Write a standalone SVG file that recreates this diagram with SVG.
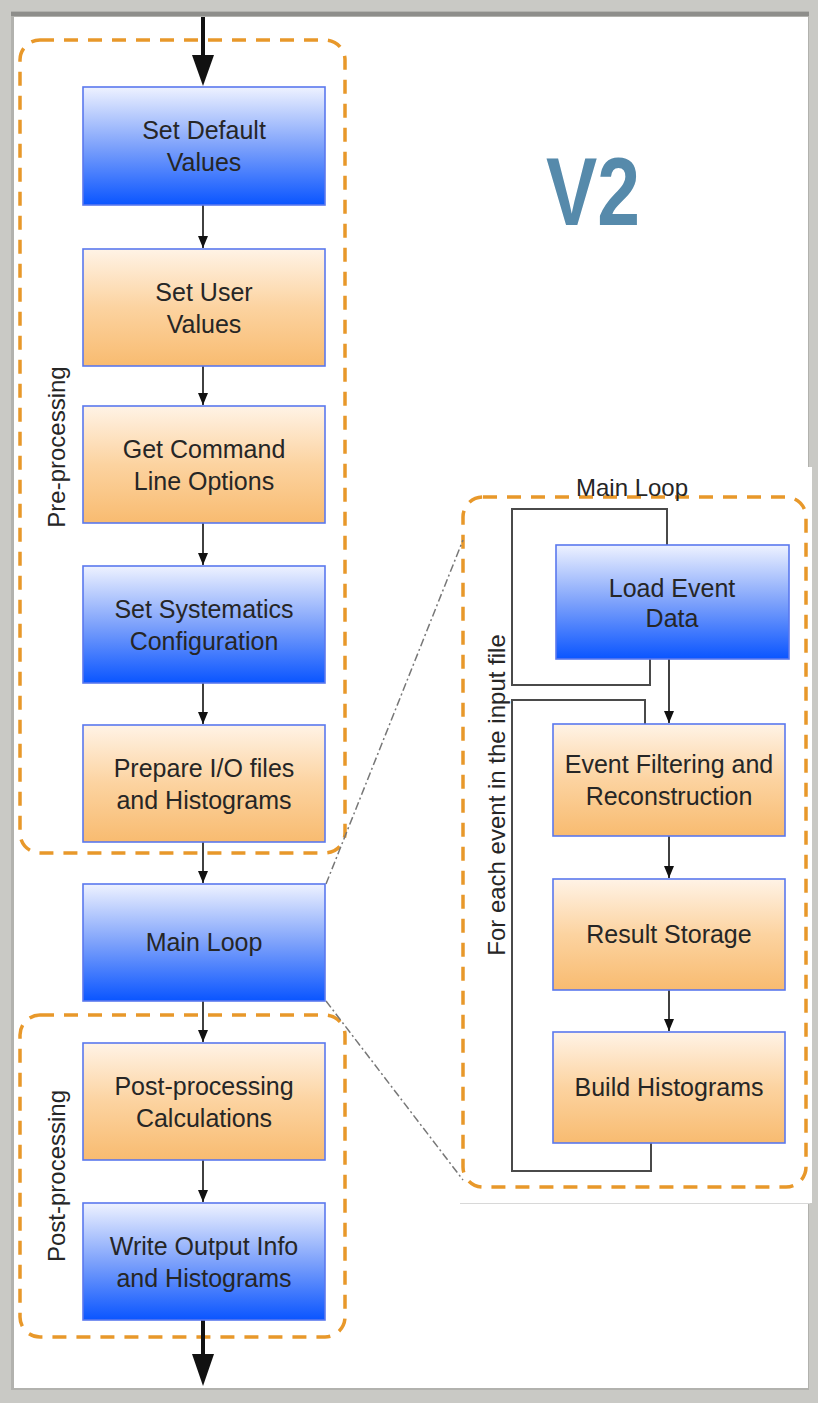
<svg xmlns="http://www.w3.org/2000/svg" width="818" height="1403" viewBox="0 0 818 1403">
<defs>
<linearGradient id="gBlue" x1="0" y1="0" x2="0" y2="1">
<stop offset="0" stop-color="#eef2ff"/>
<stop offset="0.5" stop-color="#7ea2fb"/>
<stop offset="1" stop-color="#0a55ff"/>
</linearGradient>
<linearGradient id="gOrange" x1="0" y1="0" x2="0" y2="1">
<stop offset="0" stop-color="#fff3e6"/>
<stop offset="0.5" stop-color="#fcd3a0"/>
<stop offset="1" stop-color="#f8bb70"/>
</linearGradient>
<marker id="ah" viewBox="0 0 12 10" refX="12" refY="5" markerWidth="12" markerHeight="10" markerUnits="userSpaceOnUse" orient="auto">
<path d="M0,0 L12,5 L0,10 Z" fill="#111"/>
</marker>
</defs>
<style>
.blue{fill:url(#gBlue);stroke:#5a78ee;stroke-width:1.6}
.orange{fill:url(#gOrange);stroke:#5a78ee;stroke-width:1.6}
.t{font-family:"Liberation Sans",Arial,sans-serif;font-size:25px;fill:#262626;text-anchor:middle}
.lbl{font-family:"Liberation Sans",Arial,sans-serif;font-size:24px;fill:#262626;text-anchor:middle}
.grp{fill:none;stroke:#e8982a;stroke-width:3.5;stroke-dasharray:14 10}
.conn{stroke:#111;stroke-width:1.6;fill:none}
.loop{stroke:#4a4a4a;stroke-width:2;fill:none}
.dd{stroke:#777;stroke-width:1.5;fill:none;stroke-dasharray:8 3 2 3}
</style>
<rect x="0" y="0" width="818" height="1403" fill="#c9c9c5"/>
<rect x="11" y="11" width="798" height="1379" fill="#b2b2ae"/>
<rect x="11" y="12" width="798" height="4" fill="#8e8e8b"/>
<rect x="14" y="17" width="794" height="1371" fill="#ffffff"/>
<rect x="460" y="467" width="352" height="736" fill="#ffffff"/>
<line x1="460" y1="1203.5" x2="810" y2="1203.5" stroke="#d8d8d8" stroke-width="1"/>

<text x="593" y="225" font-family="'Liberation Sans',Arial,sans-serif" font-weight="bold" font-size="96" fill="#568aab" text-anchor="middle" transform="translate(593,0) scale(0.8,1) translate(-593,0)">V2</text>

<g id="grp-pre">
<rect class="grp" x="20" y="40" width="325" height="813" rx="20"/>
<text class="lbl" transform="translate(65,447) rotate(-90)">Pre-processing</text>
</g>
<g id="grp-post">
<rect class="grp" x="20" y="1015" width="325" height="322" rx="20"/>
<text class="lbl" transform="translate(65,1176) rotate(-90)">Post-processing</text>
</g>
<g id="grp-main">
<rect class="grp" x="463" y="497" width="343" height="690" rx="20"/>
<text class="lbl" x="632" y="496">Main Loop</text>
<text class="lbl" transform="translate(505,795) rotate(-90)">For each event in the input file</text>
</g>

<g id="connectors">
<line x1="203" y1="17" x2="203" y2="58" stroke="#111" stroke-width="4"/>
<path d="M192,55 L214,55 L203,86 Z" fill="#111"/>
<line x1="203" y1="1320" x2="203" y2="1357" stroke="#111" stroke-width="4"/>
<path d="M192,1354 L214,1354 L203,1386 Z" fill="#111"/>
<line class="conn" x1="203" y1="205" x2="203" y2="248" marker-end="url(#ah)"/>
<line class="conn" x1="203" y1="366" x2="203" y2="405" marker-end="url(#ah)"/>
<line class="conn" x1="203" y1="523" x2="203" y2="565" marker-end="url(#ah)"/>
<line class="conn" x1="203" y1="683" x2="203" y2="724" marker-end="url(#ah)"/>
<line class="conn" x1="203" y1="842" x2="203" y2="883" marker-end="url(#ah)"/>
<line class="conn" x1="203" y1="1001" x2="203" y2="1042" marker-end="url(#ah)"/>
<line class="conn" x1="203" y1="1160" x2="203" y2="1202" marker-end="url(#ah)"/>
<line class="conn" x1="669" y1="659" x2="669" y2="723" marker-end="url(#ah)"/>
<line class="conn" x1="669" y1="836" x2="669" y2="878" marker-end="url(#ah)"/>
<line class="conn" x1="669" y1="990" x2="669" y2="1031" marker-end="url(#ah)"/>
<path class="loop" d="M667,545 V509 H512 V685 H650 V659"/>
<path class="loop" d="M645,724 V700 H512 V1171 H651 V1143"/>
<line class="dd" x1="326" y1="884" x2="463" y2="540"/>
<line class="dd" x1="326" y1="1001" x2="463" y2="1180"/>
</g>

<g id="n-default"><rect class="blue" x="83" y="87" width="242" height="118"/><text class="t" x="204" y="139">Set Default</text><text class="t" x="204" y="171">Values</text></g>
<g id="n-user"><rect class="orange" x="83" y="249" width="242" height="117"/><text class="t" x="204" y="301">Set User</text><text class="t" x="204" y="333">Values</text></g>
<g id="n-cmd"><rect class="orange" x="83" y="406" width="242" height="117"/><text class="t" x="204" y="458">Get Command</text><text class="t" x="204" y="490">Line Options</text></g>
<g id="n-sys"><rect class="blue" x="83" y="566" width="242" height="117"/><text class="t" x="204" y="618">Set Systematics</text><text class="t" x="204" y="650">Configuration</text></g>
<g id="n-io"><rect class="orange" x="83" y="725" width="242" height="117"/><text class="t" x="204" y="777">Prepare I/O files</text><text class="t" x="204" y="809">and Histograms</text></g>
<g id="n-main"><rect class="blue" x="83" y="884" width="242" height="117"/><text class="t" x="204" y="951">Main Loop</text></g>
<g id="n-postcalc"><rect class="orange" x="83" y="1043" width="242" height="117"/><text class="t" x="204" y="1095">Post-processing</text><text class="t" x="204" y="1127">Calculations</text></g>
<g id="n-write"><rect class="blue" x="83" y="1203" width="242" height="117"/><text class="t" x="204" y="1255">Write Output Info</text><text class="t" x="204" y="1287">and Histograms</text></g>

<g id="n-load"><rect class="blue" x="556" y="545" width="233" height="114"/><text class="t" x="672" y="597">Load Event</text><text class="t" x="672" y="627">Data</text></g>
<g id="n-filter"><rect class="orange" x="553" y="724" width="232" height="112"/><text class="t" x="669" y="773">Event Filtering and</text><text class="t" x="669" y="805">Reconstruction</text></g>
<g id="n-store"><rect class="orange" x="553" y="879" width="232" height="111"/><text class="t" x="669" y="943">Result Storage</text></g>
<g id="n-hist"><rect class="orange" x="553" y="1032" width="232" height="111"/><text class="t" x="669" y="1096">Build Histograms</text></g>
</svg>
